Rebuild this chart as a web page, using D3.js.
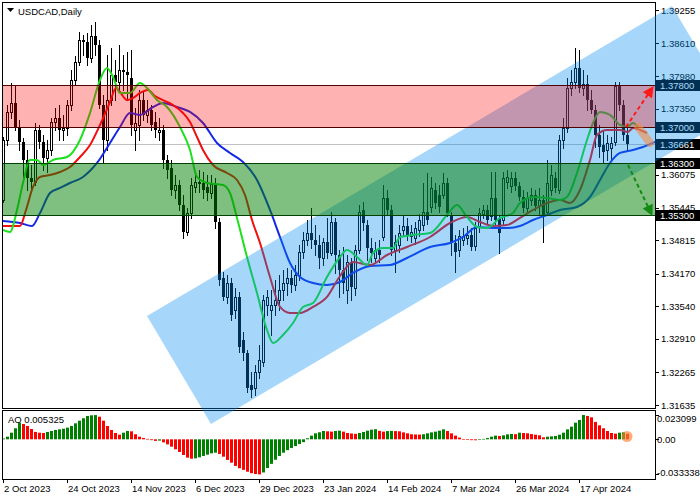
<!DOCTYPE html>
<html><head><meta charset="utf-8">
<script src="https://cdn.jsdelivr.net/npm/d3@7"></script>
<style>
html,body{margin:0;padding:0;background:#fff;}
svg{display:block;font-family:"Liberation Sans",Arial,sans-serif;}
</style></head><body>
<svg id="chart" width="700" height="500"></svg>
<script>
const symbolTitle = "USDCAD,Daily";
// [open, high, low, close] per daily bar, bar 0 = 2 Oct 2023
const ohlc = [
[1.3559,1.3681,1.3555,1.3675],[1.3675,1.3742,1.3665,1.3729],[1.3729,1.3785,1.3717,1.3746],[1.3746,1.3779,1.3694,1.3700],[1.3700,1.3713,1.3656,1.3671],
[1.3671,1.3679,1.3601,1.3636],[1.3636,1.3656,1.3578,1.3601],[1.3601,1.3627,1.3574,1.3594],[1.3594,1.3708,1.3588,1.3694],[1.3694,1.3704,1.3659,1.3671],
[1.3671,1.3684,1.3617,1.3640],[1.3640,1.3675,1.3613,1.3656],[1.3656,1.3717,1.3646,1.3710],[1.3710,1.3737,1.3694,1.3717],[1.3717,1.3742,1.3675,1.3694],
[1.3694,1.3723,1.3675,1.3698],[1.3698,1.3752,1.3684,1.3742],[1.3742,1.3810,1.3733,1.3791],[1.3791,1.3837,1.3781,1.3825],[1.3825,1.3883,1.3820,1.3868],
[1.3868,1.3877,1.3839,1.3864],[1.3864,1.3881,1.3820,1.3833],[1.3833,1.3897,1.3825,1.3876],[1.3876,1.3903,1.3839,1.3858],[1.3858,1.3868,1.3737,1.3742],
[1.3742,1.3762,1.3630,1.3675],[1.3675,1.3839,1.3656,1.3752],[1.3752,1.3852,1.3742,1.3800],[1.3800,1.3829,1.3752,1.3787],[1.3787,1.3858,1.3767,1.3810],
[1.3810,1.3839,1.3771,1.3806],[1.3806,1.3845,1.3752,1.3800],[1.3794,1.3849,1.3684,1.3704],[1.3694,1.3737,1.3656,1.3708],[1.3704,1.3771,1.3675,1.3752],
[1.3752,1.3767,1.3713,1.3723],[1.3723,1.3752,1.3710,1.3733],[1.3733,1.3742,1.3694,1.3704],[1.3710,1.3729,1.3681,1.3694],[1.3690,1.3717,1.3675,1.3694],
[1.3694,1.3704,1.3621,1.3636],[1.3636,1.3646,1.3601,1.3617],[1.3621,1.3636,1.3569,1.3578],[1.3578,1.3607,1.3563,1.3588],[1.3588,1.3598,1.3540,1.3549],
[1.3549,1.3569,1.3486,1.3497],[1.3497,1.3544,1.3491,1.3534],[1.3534,1.3601,1.3524,1.3588],[1.3584,1.3613,1.3574,1.3594],[1.3592,1.3617,1.3574,1.3594],
[1.3592,1.3613,1.3563,1.3578],[1.3584,1.3607,1.3559,1.3572],[1.3572,1.3607,1.3563,1.3590],[1.3590,1.3601,1.3505,1.3517],[1.3517,1.3524,1.3395,1.3405],
[1.3408,1.3420,1.3366,1.3372],[1.3372,1.3414,1.3360,1.3399],[1.3399,1.3408,1.3327,1.3337],[1.3347,1.3389,1.3331,1.3372],[1.3372,1.3381,1.3266,1.3275],
[1.3289,1.3304,1.3250,1.3264],[1.3264,1.3270,1.3188,1.3196],[1.3202,1.3227,1.3179,1.3192],[1.3196,1.3241,1.3183,1.3227],[1.3227,1.3279,1.3215,1.3250],
[1.3246,1.3376,1.3239,1.3366],[1.3356,1.3385,1.3337,1.3372],[1.3347,1.3385,1.3298,1.3356],[1.3356,1.3405,1.3337,1.3366],[1.3366,1.3414,1.3347,1.3385],
[1.3385,1.3424,1.3366,1.3399],[1.3399,1.3428,1.3376,1.3408],[1.3408,1.3424,1.3381,1.3395],[1.3395,1.3434,1.3385,1.3414],[1.3414,1.3472,1.3405,1.3459],
[1.3459,1.3497,1.3447,1.3482],[1.3482,1.3521,1.3472,1.3495],[1.3495,1.3544,1.3466,1.3482],[1.3482,1.3511,1.3453,1.3472],[1.3472,1.3491,1.3428,1.3447],
[1.3447,1.3486,1.3434,1.3478],[1.3478,1.3524,1.3447,1.3457],[1.3457,1.3536,1.3453,1.3517],[1.3517,1.3524,1.3418,1.3453],[1.3453,1.3463,1.3372,1.3424],
[1.3424,1.3468,1.3380,1.3399],[1.3385,1.3453,1.3360,1.3439],[1.3439,1.3447,1.3366,1.3391],[1.3389,1.3472,1.3376,1.3463],[1.3463,1.3549,1.3457,1.3536],
[1.3540,1.3555,1.3501,1.3515],[1.3511,1.3521,1.3443,1.3466],[1.3466,1.3486,1.3439,1.3457],[1.3447,1.3478,1.3439,1.3463],[1.3463,1.3482,1.3439,1.3453],
[1.3488,1.3588,1.3482,1.3563],[1.3563,1.3578,1.3530,1.3540],[1.3540,1.3549,1.3453,1.3463],[1.3463,1.3491,1.3420,1.3478],[1.3472,1.3511,1.3459,1.3495],
[1.3501,1.3530,1.3490,1.3509],[1.3509,1.3524,1.3482,1.3490],[1.3490,1.3511,1.3478,1.3497],[1.3486,1.3517,1.3474,1.3505],[1.3501,1.3532,1.3490,1.3521],
[1.3511,1.3592,1.3501,1.3536],[1.3536,1.3611,1.3513,1.3521],[1.3545,1.3603,1.3536,1.3582],[1.3578,1.3592,1.3544,1.3553],[1.3569,1.3588,1.3536,1.3545],
[1.3569,1.3611,1.3563,1.3592],[1.3592,1.3601,1.3528,1.3534],[1.3530,1.3536,1.3453,1.3476],[1.3476,1.3491,1.3420,1.3459],[1.3463,1.3501,1.3451,1.3490],
[1.3482,1.3505,1.3472,1.3490],[1.3486,1.3509,1.3474,1.3491],[1.3491,1.3505,1.3463,1.3468],[1.3470,1.3517,1.3463,1.3505],[1.3509,1.3544,1.3497,1.3534],
[1.3532,1.3549,1.3524,1.3540],[1.3540,1.3549,1.3513,1.3521],[1.3528,1.3613,1.3521,1.3563],[1.3563,1.3613,1.3511,1.3521],[1.3524,1.3530,1.3457,1.3495],
[1.3521,1.3613,1.3511,1.3601],[1.3594,1.3617,1.3582,1.3603],[1.3586,1.3613,1.3574,1.3601],[1.3601,1.3613,1.3578,1.3586],[1.3586,1.3594,1.3559,1.3565],
[1.3565,1.3578,1.3536,1.3544],[1.3544,1.3574,1.3536,1.3563],[1.3559,1.3582,1.3549,1.3569],[1.3569,1.3578,1.3540,1.3547],[1.3547,1.3582,1.3530,1.3559],
[1.3559,1.3569,1.3478,1.3530],[1.3536,1.3636,1.3530,1.3592],[1.3578,1.3627,1.3569,1.3607],[1.3601,1.3613,1.3574,1.3582],[1.3578,1.3684,1.3572,1.3675],
[1.3675,1.3717,1.3659,1.3698],[1.3698,1.3794,1.3690,1.3775],[1.3775,1.3810,1.3762,1.3787],[1.3787,1.3852,1.3775,1.3814],[1.3814,1.3849,1.3767,1.3775],
[1.3775,1.3810,1.3762,1.3783],[1.3783,1.3800,1.3733,1.3752],[1.3752,1.3771,1.3727,1.3733],[1.3733,1.3742,1.3661,1.3684],[1.3684,1.3704,1.3642,1.3661],
[1.3665,1.3694,1.3630,1.3652],[1.3656,1.3684,1.3636,1.3669],[1.3659,1.3681,1.3636,1.3669],[1.3671,1.3787,1.3665,1.3779],[1.3779,1.3787,1.3733,1.3742],
[1.3742,1.3752,1.3675,1.3684],[1.3684,1.3698,1.3656,1.36661]
];
// Awesome Oscillator, one value per bar
const aoValues = [
0.0008,0.0025,0.0063,0.0105,0.0158,0.0146,0.0127,0.0098,0.0070,0.0063,
0.0060,0.0070,0.0079,0.0089,0.0095,0.0101,0.0111,0.0127,0.0152,0.0177,
0.0200,0.0222,0.0228,0.0230,0.0215,0.0177,0.0127,0.0089,0.0060,0.0044,
0.0063,0.0079,0.0076,0.0048,0.0025,0.0013,0.0004,-0.0008,-0.0015,-0.0012,
-0.0029,-0.0048,-0.0070,-0.0095,-0.0120,-0.0149,-0.0174,-0.0184,-0.0181,-0.0171,
-0.0158,-0.0146,-0.0133,-0.0127,-0.0139,-0.0165,-0.0196,-0.0222,-0.0253,-0.0275,
-0.0290,-0.0308,-0.0322,-0.0330,-0.033338,-0.0315,-0.0273,-0.0233,-0.0194,-0.0158,
-0.0127,-0.0103,-0.0082,-0.0064,-0.0045,-0.0027,0.0010,0.0035,0.0057,0.0067,
0.0079,0.0076,0.0073,0.0079,0.0082,0.0073,0.0060,0.0055,0.0052,0.0060,
0.0070,0.0082,0.0092,0.0096,0.0080,0.0073,0.0078,0.0080,0.0078,0.0076,
0.0066,0.0057,0.0048,0.0046,0.0045,0.0048,0.0057,0.0066,0.0073,0.0082,
0.0095,0.0079,0.0057,0.0035,0.0016,-0.0001,-0.0006,-0.0008,-0.0009,-0.0004,
0.0004,0.0012,0.0025,0.0035,0.0032,0.0038,0.0047,0.0051,0.0049,0.0063,
0.0060,0.0057,0.0050,0.0044,0.0038,0.0019,0.0025,0.0028,0.0032,0.0044,
0.0063,0.0095,0.0120,0.0158,0.0184,0.023099,0.0222,0.0209,0.0165,0.0133,
0.0105,0.0079,0.0060,0.0054,0.0063,0.0066,0.005325
];
const aoLast = 0.005325;
// Alligator lines: [bar position, price]
const jawLine = [[0,1.35185],[4.25,1.35146],[7.25,1.35089],[9.25,1.35339],[11.75,1.35725],[14.25,1.35822],[16.75,1.35918],[20,1.36034],[23.5,1.36304],[26.75,1.36690],[29.25,1.36998],[31.75,1.37268],[34.25,1.37230],[37.5,1.37384],[40,1.37461],[43.5,1.37384],[46.75,1.37288],[50,1.37075],[53.5,1.36690],[56.75,1.36497],[60,1.36323],[63.5,1.35976],[66.75,1.35397],[69.25,1.34876],[71.75,1.34375],[74.25,1.34105],[77.5,1.33989],[81,1.33950],[84.25,1.34008],[87.5,1.34182],[91.75,1.34317],[96.75,1.34336],[101,1.34471],[106.75,1.34683],[111.75,1.34761],[115,1.34876],[118.5,1.35069],[122.5,1.35050],[126,1.35050],[129.25,1.35089],[132.5,1.35204],[136,1.35301],[139.25,1.35397],[143.5,1.35455],[146.75,1.35648],[149.25,1.35976],[151.75,1.36304],[154.25,1.36497],[157.5,1.36555],[160,1.36612],[163,1.36709]];
const teethLine = [[0,1.35089],[4.25,1.35089],[5.75,1.35397],[7.5,1.35841],[9.25,1.36034],[11.75,1.36072],[14.25,1.36130],[16.75,1.36227],[19.25,1.36419],[21.75,1.36651],[24.25,1.37037],[26.75,1.37480],[28.25,1.37750],[29.25,1.37673],[31,1.37518],[32.5,1.37557],[34.25,1.37654],[36.25,1.37712],[38,1.37596],[40,1.37518],[42.5,1.37423],[45,1.37268],[46.75,1.37095],[48.5,1.36805],[50,1.36555],[52.5,1.36265],[56,1.36110],[58.5,1.35976],[60.5,1.35686],[62.25,1.35204],[64.25,1.34761],[66.75,1.34105],[69.25,1.33526],[71.75,1.33410],[74.25,1.33410],[77.5,1.33526],[81,1.33719],[84.25,1.34124],[87.5,1.34394],[91.75,1.34336],[96,1.34529],[101,1.34683],[106.75,1.34876],[111.75,1.35146],[116,1.35262],[119.25,1.35166],[122.5,1.35089],[126,1.35108],[129.25,1.35243],[132.5,1.35397],[136,1.35532],[139.25,1.35590],[141.75,1.35532],[144.25,1.35783],[146.75,1.36362],[148.5,1.36844],[151,1.36940],[154.25,1.36940],[156.25,1.36902],[157.5,1.36979],[159.25,1.36940],[161,1.36882]];
const lipsLine = [[0,1.35011],[1.75,1.34973],[3.5,1.35397],[5,1.35918],[6.75,1.36362],[8.5,1.36362],[10,1.36265],[12.5,1.36362],[16,1.36419],[19.25,1.36747],[21.75,1.37268],[24.25,1.37905],[26,1.38136],[27.5,1.37963],[29.25,1.37654],[31.75,1.37654],[34.25,1.37847],[36,1.37750],[38.5,1.37518],[41,1.37384],[44.25,1.36998],[46.75,1.36555],[48.5,1.36034],[51,1.35918],[55,1.35879],[56.75,1.35725],[58.5,1.35243],[61,1.34490],[63.5,1.33796],[66,1.33082],[67.5,1.32831],[70,1.32986],[72.5,1.33217],[75,1.33526],[77.5,1.33603],[81,1.34105],[84.25,1.34490],[86,1.34626],[88.5,1.34490],[91,1.34336],[92.5,1.34568],[95,1.34664],[97.5,1.34664],[99.25,1.34876],[102.5,1.34915],[106.75,1.34953],[111,1.35301],[113.5,1.35493],[116,1.35262],[118.5,1.35069],[121,1.35050],[124.25,1.35243],[127.5,1.35339],[129.25,1.35532],[132.5,1.35648],[136,1.35629],[139.25,1.35590],[141,1.35648],[143.5,1.36111],[146,1.36747],[147.5,1.37075],[149.25,1.37288],[151.75,1.37230],[154.25,1.37037],[156,1.36998],[157.5,1.37075],[158.75,1.36998]];
const dateTickBars = [0,16,32,48,64,80,96,112,128,144];
const dateTickLabels = ["2 Oct 2023","24 Oct 2023","14 Nov 2023","6 Dec 2023","29 Dec 2023","23 Jan 2024","14 Feb 2024","7 Mar 2024","26 Mar 2024","17 Apr 2024"];
const priceTicks = [1.39255,1.38610,1.37980,1.37350,1.36720,1.36075,1.35445,1.34815,1.34170,1.33540,1.32910,1.32265,1.31635];
const resistanceZone = [1.3700, 1.3780];
const supportZone = [1.3530, 1.3630];
const levelLabels = [1.37800, 1.37000, 1.36300, 1.35300];
const lastPrice = 1.36661;
const channelCorners = [[36,1.33352],[52,1.31269],[183.25,1.37249],[167.25,1.39332]];
const upArrow = [[155.75,1.3700],[162.5,1.3777]];
const downArrow = [[156.25,1.36265],[162.25,1.35300]];
const forecastPath = [[158.75,1.37000],[161.75,1.36690]];
const aoTicks = [0.023099, 0, -0.033338];
const aoTickLabels = ["0.023099","0.00","-0.033338"];

const svg = d3.select("#chart");
const P = {l:3, r:655, t:3, b:408};
const x = d3.scaleLinear().domain([-0.75, 162.25]).range([0, 652]);
const y = d3.scaleLinear().domain([1.31635, 1.39255]).range([405, 10]);
const yAO = d3.scaleLinear().domain([-0.0377, 0.0269]).range([479, 411]);

svg.append("rect").attr("width",700).attr("height",500).attr("fill","#fff");
const defs = svg.append("defs");
defs.append("clipPath").attr("id","clipMain").append("rect").attr("x",P.l).attr("y",P.t).attr("width",P.r-P.l).attr("height",P.b-P.t);
defs.append("clipPath").attr("id","clipAO").append("rect").attr("x",P.l).attr("y",411).attr("width",P.r-P.l).attr("height",68);
function marker(id,color){
  defs.append("marker").attr("id",id).attr("viewBox","0 0 10 10").attr("refX",9).attr("refY",5)
    .attr("markerWidth",12).attr("markerHeight",11).attr("markerUnits","userSpaceOnUse").attr("orient","auto")
    .append("path").attr("d","M0,0 L10,5 L0,10 z").attr("fill",color);
}
marker("arrRed","#ff1a1a"); marker("arrGreen","#138a13");

const fs = "9.5px";
const main = svg.append("g").attr("clip-path","url(#clipMain)");
const py = v => Math.round(y(v)) + 0.5;

// current price line
main.append("line").attr("x1",P.l).attr("x2",P.r).attr("y1",py(lastPrice)).attr("y2",py(lastPrice)).attr("stroke","#c0c0c0");

// candles
const cx = i => Math.round(x(i)) + 0.5;
const cg = main.append("g");
cg.selectAll("line.w").data(ohlc).join("line").attr("class","w")
  .attr("x1",(d,i)=>cx(i)).attr("x2",(d,i)=>cx(i))
  .attr("y1",d=>Math.round(y(d[1]))).attr("y2",d=>Math.round(y(d[2]))+1)
  .attr("stroke","#000").attr("stroke-width",1);
cg.selectAll("rect.b").data(ohlc).join("rect").attr("class","b")
  .each(function(d,i){
    const top = Math.round(y(Math.max(d[0],d[3]))), bot = Math.round(y(Math.min(d[0],d[3])));
    const s = d3.select(this);
    if (d[3] >= d[0]) {
      s.attr("x",cx(i)-1).attr("y",top+0.5).attr("width",2).attr("height",Math.max(1,bot-top))
       .attr("fill","#fff").attr("stroke","#000").attr("stroke-width",1);
    } else {
      s.attr("x",cx(i)-1.5).attr("y",top).attr("width",3).attr("height",Math.max(1,bot-top)).attr("fill","#000");
    }
  });

// alligator
const lineGen = d3.line().x(d=>x(d[0])).y(d=>y(d[1])).curve(d3.curveMonotoneX);
[[jawLine,"#1428e6"],[teethLine,"#f01010"],[lipsLine,"#1ee01e"]].forEach(([data,col])=>{
  main.append("path").datum(data).attr("d",lineGen).attr("fill","none").attr("stroke",col).attr("stroke-width",2);
});

// frames
svg.append("rect").attr("x",2.5).attr("y",2.5).attr("width",653).attr("height",406).attr("fill","none").attr("stroke","#000");
svg.append("rect").attr("x",2.5).attr("y",410.5).attr("width",653).attr("height",69).attr("fill","none").attr("stroke","#000");

// price axis
const ag = svg.append("g");
priceTicks.forEach(v=>{
  ag.append("line").attr("x1",656).attr("x2",659).attr("y1",py(v)).attr("y2",py(v)).attr("stroke","#000");
  ag.append("text").attr("x",661).attr("y",y(v)+3.5).attr("font-size",fs).attr("fill","#000").text(d3.format(".5f")(v));
});
levelLabels.concat([lastPrice]).forEach(v=>{
  const yy = Math.round(y(v));
  ag.append("rect").attr("x",656).attr("y",yy-5).attr("width",44).attr("height",11).attr("fill","#000");
  ag.append("text").attr("x",660).attr("y",yy+4).attr("font-size",fs).attr("fill","#fff").text(d3.format(".5f")(v));
});

// channel (overlay over plot, axis labels and top of the AO panel)
svg.append("polygon").attr("points",channelCorners.map(d=>[x(d[0]),y(d[1])].join(",")).join(" "))
  .attr("fill","rgba(0,140,240,0.35)");

// zone border lines and zones
const zg = svg.append("g").attr("clip-path","url(#clipMain)");
levelLabels.forEach(v=>{
  zg.append("line").attr("x1",P.l).attr("x2",P.r).attr("y1",py(v)).attr("y2",py(v)).attr("stroke","#000");
});
function zone(z,col){
  const t = Math.round(y(z[1])), b = Math.round(y(z[0]))+1;
  zg.append("rect").attr("x",P.l).attr("width",P.r-P.l).attr("y",t).attr("height",b-t).attr("fill",col);
}
zone(resistanceZone,"rgba(255,0,0,0.3)");
zone(supportZone,"rgba(0,128,0,0.5)");

// forecast marks
svg.append("line").attr("x1",x(forecastPath[0][0])).attr("y1",y(forecastPath[0][1]))
  .attr("x2",x(forecastPath[1][0])).attr("y2",y(forecastPath[1][1]))
  .attr("stroke","rgba(245,140,70,0.6)").attr("stroke-width",8).attr("stroke-linecap","round");
svg.append("line").attr("x1",x(upArrow[0][0])).attr("y1",y(upArrow[0][1]))
  .attr("x2",x(upArrow[1][0])).attr("y2",y(upArrow[1][1]))
  .attr("stroke","#ff1a1a").attr("stroke-width",2).attr("stroke-dasharray","4,3").attr("marker-end","url(#arrRed)");
svg.append("line").attr("x1",x(downArrow[0][0])).attr("y1",y(downArrow[0][1]))
  .attr("x2",x(downArrow[1][0])).attr("y2",y(downArrow[1][1]))
  .attr("stroke","#138a13").attr("stroke-width",2).attr("stroke-dasharray","4,3").attr("marker-end","url(#arrGreen)");

// title
svg.append("path").attr("d","M7,8 L14,8 L10.5,12 Z").attr("fill","#000");
svg.append("text").attr("x",18).attr("y",15).attr("font-size",fs).attr("fill","#000").text(symbolTitle);

// AO panel
const aog = svg.append("g").attr("clip-path","url(#clipAO)");
aog.selectAll("rect").data(aoValues).join("rect")
  .attr("x",(d,i)=>Math.round(x(i))-1).attr("width",3)
  .attr("y",d=>Math.min(yAO(d),yAO(0))).attr("height",d=>Math.max(0.6,Math.abs(yAO(d)-yAO(0))))
  .attr("fill",(d,i)=> (i===0 || d>aoValues[i-1]) ? "#008000" : "#ff0000");
svg.append("circle").attr("cx",x(aoValues.length-1)).attr("cy",yAO(aoLast/2)).attr("r",5.5).attr("fill","rgba(255,130,50,0.65)");
svg.append("text").attr("x",8).attr("y",423).attr("font-size",fs).attr("fill","#000").text("AO " + aoLast);
aoTicks.forEach((v,k)=>{
  const yy = Math.max(418, Math.min(472, yAO(v)));
  svg.append("line").attr("x1",656).attr("x2",659).attr("y1",Math.round(yAO(v))+0.5).attr("y2",Math.round(yAO(v))+0.5).attr("stroke","#000");
  svg.append("text").attr("x",657).attr("y",yy+3.5).attr("font-size",fs).attr("fill","#000").text(aoTickLabels[k]);
});

// time axis
dateTickBars.forEach((b,k)=>{
  const xx = Math.round(x(b))+0.5;
  svg.append("line").attr("x1",xx).attr("x2",xx).attr("y1",480).attr("y2",483).attr("stroke","#000");
  svg.append("text").attr("x",xx+0.5).attr("y",492).attr("font-size",fs).attr("fill","#000").text(dateTickLabels[k]);
});
</script>
</body></html>
